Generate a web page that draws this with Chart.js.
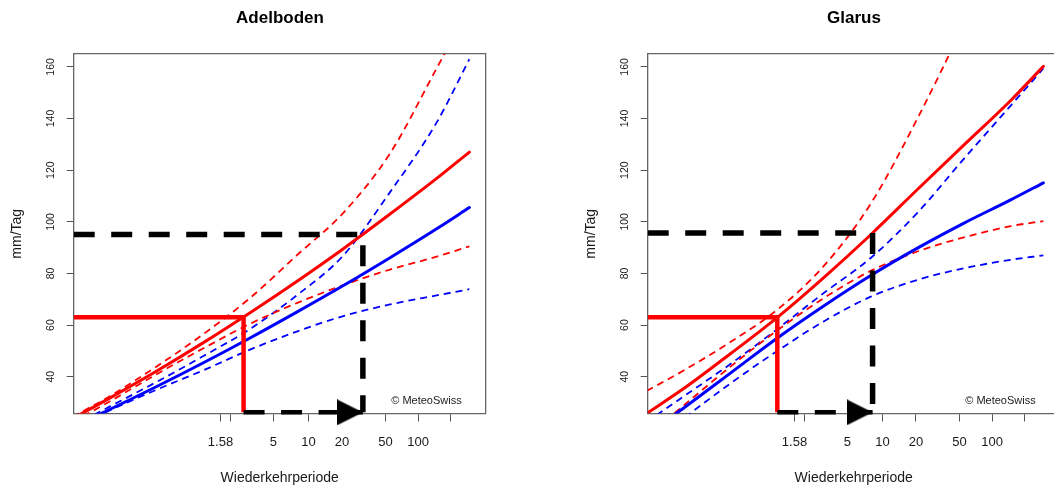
<!DOCTYPE html>
<html>
<head>
<meta charset="utf-8">
<script src="https://cdn.jsdelivr.net/npm/chart.js@4.4.1/dist/chart.umd.min.js"></script>
<style>
  html, body { margin: 0; padding: 0; background: #fff; overflow: hidden; }
  #wrap { position: relative; width: 1054px; height: 489px; overflow: hidden; }
  canvas { position: absolute; top: 0; }
  #chartA { left: 0; }
  #chartG { left: 574px; }
</style>
</head>
<body>
<div id="wrap">
  <canvas id="chartA" width="560" height="489"></canvas>
  <canvas id="chartG" width="560" height="489"></canvas>
</div>
<script>
// Gumbel reduced variate of a return period (years)
const gumbel = T => -Math.log(-Math.log(1 - 1 / T));

// sample positions of the curves, in reduced variate
const variate = [-2.8, -2, -1, 0, 1, 2, 3, 4, 5, 5.7];

const tickPeriods = [2, 2.33, 5, 10, 20, 50, 100, 200];
const tickLabels = ['1.58', '', '5', '10', '20', '50', '100', ''];
const yTicks = [40, 60, 80, 100, 120, 140, 160];

// Adelboden
const adelRed    = [23.8, 31.8, 42.2, 53.2, 64.8, 76.9, 89.6, 103.0, 116.8, 127.0];
const adelRedHi  = [24.5, 32.5, 44, 56.5, 70.5, 87, 103.5, 126.5, 159.5, 183];
const adelRedLo  = [22.5, 30.5, 41, 51, 60.5, 68.5, 75.5, 81.5, 86.5, 90.5];
const adelBlue   = [20.6, 27.4, 36.2, 45.4, 55.0, 65.0, 75.3, 86.1, 97.3, 105.5];
const adelBlueHi = [21, 28.5, 38, 48, 58.5, 71.5, 87, 111.5, 138.5, 163];
const adelBlueLo = [20, 27, 35, 42.5, 50.5, 57.5, 63.5, 68, 71.5, 73.9];
const adelRedMark = [2.9, 63];     // [return period, mm/Tag]
const adelBlackMark = [31, 95.1];

// Glarus
const glarRed    = [25.8, 35.5, 49, 63, 78.5, 95, 112.5, 129.8, 147, 160.2];
const glarRedHi  = [34.5, 42.5, 53.5, 66, 83, 107, 140, 177, 218, 250];
const glarRedLo  = [17, 29, 44, 58, 70.5, 81, 88.5, 94, 98.3, 100.3];
const glarBlue   = [17.5, 28, 41.5, 55, 67.5, 79.2, 89.8, 99.5, 108.5, 115.1];
const glarBlueHi = [22.5, 32.5, 45, 58.5, 72.5, 86, 103.5, 124.5, 145, 159.4];
const glarBlueLo = [13, 24, 37.5, 50, 61.5, 71, 77.5, 82, 85.3, 87];
const glarRedMark = [1.58, 63];
const glarBlackMark = [8.2, 95.7];

const arrowLevel = 26.2;
const xMin = -2.78, xMax = 6.05;
const yMin = 25.75, yMax = 165;

Chart.defaults.font.family = '"Liberation Sans", Arial, sans-serif';
Chart.defaults.color = '#1a1a1a';

// arrow head: tip sits at the centre of the image
const head = document.createElement('canvas');
head.width = 52;
head.height = 26;
const hc = head.getContext('2d');
hc.fillStyle = '#000';
hc.beginPath();
hc.moveTo(0, 0);
hc.lineTo(26, 13);
hc.lineTo(0, 26);
hc.closePath();
hc.fill();

const credit = {
    id: 'credit',
    afterDatasetsDraw(chart) {
        const {ctx, chartArea} = chart;
        ctx.save();
        ctx.font = '11px "Liberation Sans", Arial, sans-serif';
        ctx.fillStyle = '#1a1a1a';
        ctx.textAlign = 'right';
        ctx.textBaseline = 'middle';
        ctx.fillText('\u00A9 MeteoSwiss', chartArea.right - 24, chartArea.bottom - 12.5);
        ctx.restore();
    }
};

const pts = ys => variate.map((x, i) => ({x, y: ys[i]}));

function curve(ys, color, dashed) {
    return {
        data: pts(ys),
        borderColor: color,
        borderWidth: dashed ? 1.8 : 3,
        borderDash: dashed ? [7, 5] : [],
        borderCapStyle: dashed ? 'butt' : 'round',
        cubicInterpolationMode: 'monotone',
        pointRadius: 0,
        clip: 0
    };
}

function makeChart(id, title, s) {
    const rx = gumbel(s.redMark[0]), bx = gumbel(s.blackMark[0]);
    const datasets = [
        {
            // arrow between the two return periods
            data: [{x: rx, y: arrowLevel}, {x: bx, y: arrowLevel}],
            borderColor: '#000',
            borderWidth: 4.5,
            borderDash: [21, 16.5],
            pointStyle: head,
            pointRadius: c => c.dataIndex === 1 ? 5 : 0,
            clip: false
        },
        {
            data: [{x: xMin, y: s.redMark[1]}, {x: rx, y: s.redMark[1]}, {x: rx, y: arrowLevel}],
            borderColor: '#ff0000',
            borderWidth: 4.5,
            pointRadius: 0,
            clip: 0
        },
        {
            data: [{x: xMin, y: s.blackMark[1]}, {x: bx, y: s.blackMark[1]}, {x: bx, y: arrowLevel}],
            borderColor: '#000',
            borderWidth: 5.5,
            borderDash: [21, 16.5],
            pointRadius: 0,
            clip: 0
        },
        curve(s.red, '#ff0000', false),
        curve(s.blue, '#0000ff', false),
        curve(s.redHi, '#ff0000', true),
        curve(s.redLo, '#ff0000', true),
        curve(s.blueHi, '#0000ff', true),
        curve(s.blueLo, '#0000ff', true)
    ];

    return new Chart(document.getElementById(id), {
        type: 'line',
        data: {datasets},
        plugins: [credit],
        options: {
            responsive: false,
            animation: false,
            layout: {padding: 0},
            plugins: {
                legend: {display: false},
                tooltip: {enabled: false},
                title: {
                    display: true,
                    text: title,
                    color: '#000',
                    font: {size: 17, weight: 'bold'},
                    padding: {top: 7.8, bottom: 0}
                }
            },
            scales: {
                x: {
                    type: 'linear',
                    position: 'bottom',
                    min: xMin,
                    max: xMax,
                    afterBuildTicks: sc => { sc.ticks = tickPeriods.map(T => ({value: gumbel(T)})); },
                    afterFit: sc => { sc.height = 75.5; },
                    ticks: {
                        callback: (v, i) => tickLabels[i],
                        autoSkip: false,
                        maxRotation: 0,
                        padding: 13,
                        font: {size: 13}
                    },
                    grid: {drawOnChartArea: false, tickLength: 8, color: '#555'},
                    border: {color: '#666', width: 1.3},
                    title: {
                        display: true,
                        text: 'Wiederkehrperiode',
                        font: {size: 14},
                        padding: {top: 0, bottom: 2.6}
                    }
                },
                y: {
                    type: 'linear',
                    position: 'left',
                    min: yMin,
                    max: yMax,
                    afterBuildTicks: sc => { sc.ticks = yTicks.map(v => ({value: v})); },
                    afterFit: sc => { sc.width = 73.7; },
                    ticks: {
                        minRotation: 90,
                        maxRotation: 90,
                        crossAlign: 'center',
                        padding: 7,
                        font: {size: 10.5}
                    },
                    grid: {drawOnChartArea: false, tickLength: 7, color: '#555'},
                    border: {color: '#666', width: 1.3},
                    title: {
                        display: true,
                        text: 'mm/Tag',
                        font: {size: 14},
                        padding: {top: 9.1, bottom: 0}
                    }
                },
                xt: {
                    type: 'linear',
                    position: 'top',
                    ticks: {display: false},
                    grid: {display: false},
                    border: {color: '#666', width: 1.3},
                    afterFit: sc => { sc.height = 25.8; }
                },
                yr: {
                    type: 'linear',
                    position: 'right',
                    ticks: {display: false},
                    grid: {display: false},
                    border: {color: '#666', width: 1.3},
                    afterFit: sc => { sc.width = 74.3; }
                }
            }
        }
    });
}

makeChart('chartA', 'Adelboden', {
    red: adelRed, redHi: adelRedHi, redLo: adelRedLo,
    blue: adelBlue, blueHi: adelBlueHi, blueLo: adelBlueLo,
    redMark: adelRedMark, blackMark: adelBlackMark
});

makeChart('chartG', 'Glarus', {
    red: glarRed, redHi: glarRedHi, redLo: glarRedLo,
    blue: glarBlue, blueHi: glarBlueHi, blueLo: glarBlueLo,
    redMark: glarRedMark, blackMark: glarBlackMark
});
</script>
</body>
</html>
